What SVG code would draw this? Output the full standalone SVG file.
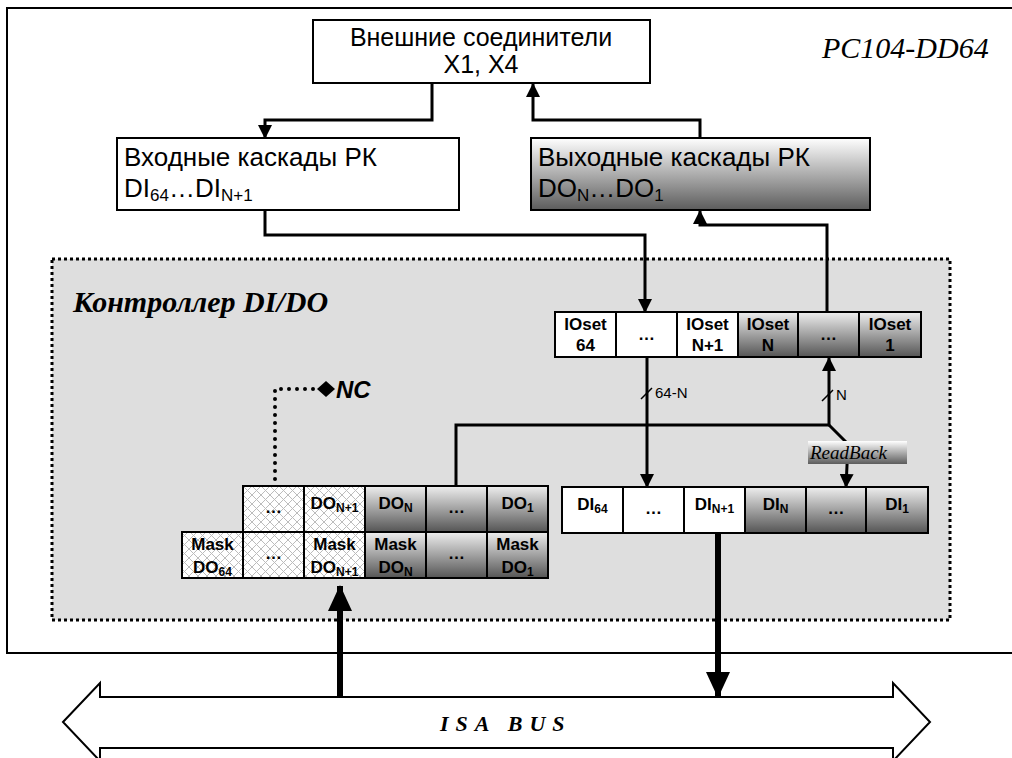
<svg xmlns="http://www.w3.org/2000/svg" width="1012" height="758" viewBox="0 0 1012 758">
<defs>
<style>
.box{fill:#fff;stroke:#000;stroke-width:2}
.cw{fill:#fff;stroke:#000;stroke-width:2}
.cg{fill:url(#grad);stroke:#000;stroke-width:2}
.ch{fill:url(#hatch);stroke:#000;stroke-width:2}
.t{font-family:"Liberation Sans",Arial,sans-serif;fill:#000}
.b{font-family:"Liberation Sans",Arial,sans-serif;font-weight:bold;fill:#000;font-size:17px;text-anchor:middle}
.con{fill:none;stroke:#000;stroke-width:3}
.thick{fill:none;stroke:#000;stroke-width:6}
</style>
<linearGradient id="grad" x1="0" y1="0" x2="0" y2="1">
<stop offset="0" stop-color="#eeeeee"/>
<stop offset="1" stop-color="#555"/>
</linearGradient>
<linearGradient id="grad2" x1="0" y1="0" x2="0" y2="1">
<stop offset="0" stop-color="#ffffff"/>
<stop offset="1" stop-color="#5c5c5c"/>
</linearGradient>
<pattern id="hatch" patternUnits="userSpaceOnUse" width="9" height="9">
<rect width="9" height="9" fill="#fff"/>
<path d="M0,0 L9,9 M9,0 L0,9" stroke="#bcbcbc" stroke-width="1"/>
</pattern>
<marker id="ah" markerUnits="userSpaceOnUse" markerWidth="14" markerHeight="14" viewBox="0 0 14 14" refX="13" refY="7" orient="auto"><path d="M0,0 L14,7 L0,14 z" fill="#000"/></marker>
<marker id="ahb" markerUnits="userSpaceOnUse" markerWidth="26" markerHeight="24" viewBox="0 0 26 24" refX="25" refY="12" orient="auto"><path d="M0,0 L26,12 L0,24 z" fill="#000"/></marker>
</defs>

<rect x="7" y="8" width="1020" height="645" fill="#fff" stroke="#000" stroke-width="2"/>
<text x="822" y="58" font-family="Liberation Serif,Times New Roman,serif" font-style="italic" font-size="30">PC104-DD64</text>

<rect id="controller" x="52" y="259" width="898" height="361" fill="#dedede" stroke="#000" stroke-width="3" stroke-dasharray="3 3"/>
<text x="73" y="312" font-family="Liberation Serif,Times New Roman,serif" font-style="italic" font-weight="bold" font-size="30">Контроллер DI/DO</text>

<g id="connectors">
<path class="con" d="M432,83 V120 H265 V138" marker-end="url(#ah)"/>
<path class="con" d="M700,138 V120 H533 V84" marker-end="url(#ah)"/>
<path class="con" d="M265,210 V235 H645 V312" marker-end="url(#ah)"/>
<path class="con" d="M827,312 V225 H700 V211" marker-end="url(#ah)"/>
<path class="con" d="M647,357 V487" marker-end="url(#ah)"/>
<path class="con" d="M456,486 V425 H829 V358" marker-end="url(#ah)"/>
<path class="con" d="M829,425 L848,444 L846,487" marker-end="url(#ah)"/>
<path d="M275,487 V389 H316" fill="none" stroke="#000" stroke-width="4" stroke-linecap="round" stroke-dasharray="0 8"/>
<path d="M317,389 L326,381 L335,389 L326,397 Z" fill="#000"/>
<path class="thick" d="M340,697 V586" marker-end="url(#ahb)"/>
<path class="thick" d="M718,533 V697" marker-end="url(#ahb)"/>
<path d="M641,399 L652,388 M822,401 L833,390" stroke="#000" stroke-width="1.5"/>
<text class="t" x="655" y="398" font-size="15">64-N</text>
<text class="t" x="836" y="400" font-size="15">N</text>
</g>
<text x="336" y="398" font-family="Liberation Sans,Arial,sans-serif" font-style="italic" font-weight="bold" font-size="24">NC</text>

<g id="ext">
<rect class="box" x="313" y="20" width="337" height="63"/>
<text class="t" x="481" y="46" font-size="25" text-anchor="middle">Внешние соединители</text>
<text class="t" x="481" y="73" font-size="25" text-anchor="middle">X1, X4</text>
</g>

<g id="inp">
<rect class="box" x="117" y="138" width="342" height="72"/>
<text class="t" x="124" y="166" font-size="26">Входные каскады РК</text>
<text class="t" x="124" y="197" font-size="26">DI<tspan font-size="17" dy="4">64</tspan><tspan dy="-4">…DI</tspan><tspan font-size="17" dy="4">N+1</tspan></text>
</g>

<g id="out">
<rect x="531" y="138" width="339" height="72" fill="url(#grad2)" stroke="#000" stroke-width="2"/>
<text class="t" x="538" y="166" font-size="26">Выходные каскады РК</text>
<text class="t" x="538" y="197" font-size="26">DO<tspan font-size="17" dy="4">N</tspan><tspan dy="-4">…DO</tspan><tspan font-size="17" dy="4">1</tspan></text>
</g>

<g id="ioset">
<rect class="cw" x="555" y="312" width="61" height="45"/>
<rect class="cw" x="616" y="312" width="61" height="45"/>
<rect class="cw" x="677" y="312" width="61" height="45"/>
<rect class="cg" x="738" y="312" width="60" height="45"/>
<rect class="cg" x="798" y="312" width="61" height="45"/>
<rect class="cg" x="859" y="312" width="62" height="45"/>
<text class="b" x="585.5" y="330">IOset</text><text class="b" x="585.5" y="351">64</text>
<text class="b" x="646.5" y="340">…</text>
<text class="b" x="707.5" y="330">IOset</text><text class="b" x="707.5" y="351">N+1</text>
<text class="b" x="768" y="330">IOset</text><text class="b" x="768" y="351">N</text>
<text class="b" x="828.5" y="340">…</text>
<text class="b" x="890" y="330">IOset</text><text class="b" x="890" y="351">1</text>
</g>

<g id="do">
<rect class="ch" x="243" y="486" width="61" height="46"/>
<rect class="ch" x="304" y="486" width="61" height="46"/>
<rect class="cg" x="365" y="486" width="61" height="46"/>
<rect class="cg" x="426" y="486" width="61" height="46"/>
<rect class="cg" x="487" y="486" width="61" height="46"/>
<text class="b" x="273.5" y="513">…</text>
<text class="b" x="334.5" y="509" font-size="19">DO<tspan font-size="12" dy="3">N+1</tspan></text>
<text class="b" x="395.5" y="509" font-size="19">DO<tspan font-size="12" dy="3">N</tspan></text>
<text class="b" x="456.5" y="513">…</text>
<text class="b" x="517.5" y="509" font-size="19">DO<tspan font-size="12" dy="3">1</tspan></text>
</g>

<g id="mask">
<rect class="ch" x="182" y="532" width="61" height="46"/>
<rect class="ch" x="243" y="532" width="61" height="46"/>
<rect class="ch" x="304" y="532" width="61" height="46"/>
<rect class="cg" x="365" y="532" width="61" height="46"/>
<rect class="cg" x="426" y="532" width="61" height="46"/>
<rect class="cg" x="487" y="532" width="61" height="46"/>
<text class="b" x="212.5" y="550">Mask</text><text class="b" x="212.5" y="573" font-size="19">DO<tspan font-size="12" dy="3">64</tspan></text>
<text class="b" x="273.5" y="559">…</text>
<text class="b" x="334.5" y="550">Mask</text><text class="b" x="334.5" y="573" font-size="19">DO<tspan font-size="12" dy="3">N+1</tspan></text>
<text class="b" x="395.5" y="550">Mask</text><text class="b" x="395.5" y="573" font-size="19">DO<tspan font-size="12" dy="3">N</tspan></text>
<text class="b" x="456.5" y="559">…</text>
<text class="b" x="517.5" y="550">Mask</text><text class="b" x="517.5" y="573" font-size="19">DO<tspan font-size="12" dy="3">1</tspan></text>
</g>

<g id="di">
<rect class="cw" x="562" y="487" width="61" height="46"/>
<rect class="cw" x="623" y="487" width="61" height="46"/>
<rect class="cw" x="684" y="487" width="61" height="46"/>
<rect class="cg" x="745" y="487" width="61" height="46"/>
<rect class="cg" x="806" y="487" width="60" height="46"/>
<rect class="cg" x="866" y="487" width="62" height="46"/>
<text class="b" x="592.5" y="510" font-size="19">DI<tspan font-size="12" dy="3">64</tspan></text>
<text class="b" x="653.5" y="514">…</text>
<text class="b" x="714.5" y="510" font-size="19">DI<tspan font-size="12" dy="3">N+1</tspan></text>
<text class="b" x="775.5" y="510" font-size="19">DI<tspan font-size="12" dy="3">N</tspan></text>
<text class="b" x="836" y="514">…</text>
<text class="b" x="897" y="510" font-size="19">DI<tspan font-size="12" dy="3">1</tspan></text>
</g>

<g id="readback">
<rect x="808" y="441" width="99" height="23" fill="url(#grad2)"/>
<text x="810" y="459" font-family="Liberation Serif,Times New Roman,serif" font-style="italic" font-size="19">ReadBack</text>
</g>

<g id="isabus">
<path d="M63,722 L100,683 L100,697 L893,697 L893,683 L930,722 L893,761 L893,748 L100,748 L100,761 Z" fill="#fff" stroke="#000" stroke-width="2"/>
<path d="M340,697 V640" class="thick"/>
<text x="440" y="731" font-family="Liberation Serif,Times New Roman,serif" font-style="italic" font-weight="bold" font-size="22" letter-spacing="7">ISA  BUS</text>
</g>
</svg>
